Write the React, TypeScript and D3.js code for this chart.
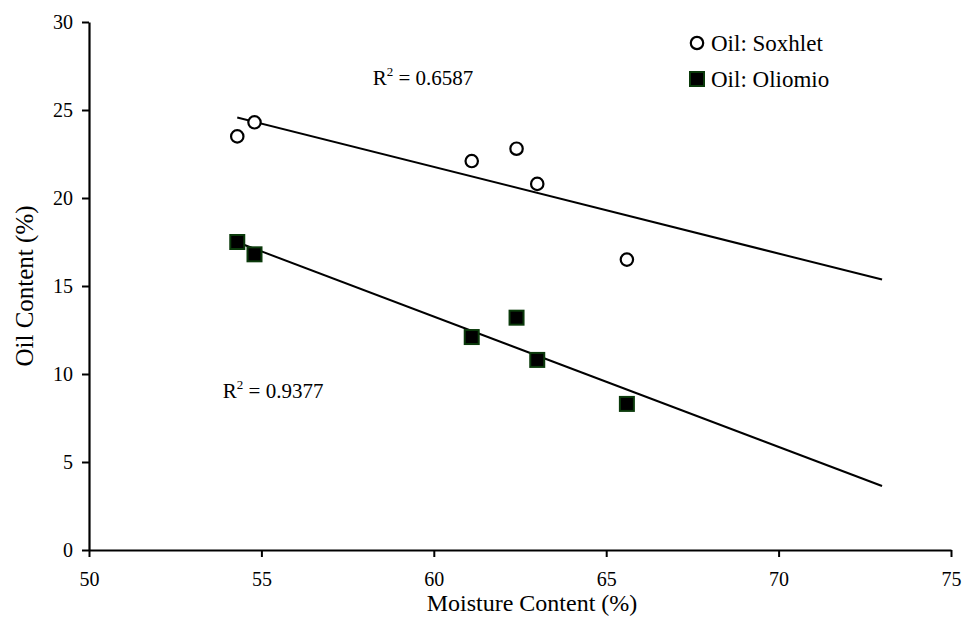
import React, { useEffect, useRef } from 'react';
import * as d3 from 'd3';

// moisture content (%) of each sample
const moisture = [54.3, 54.8, 61.1, 62.4, 63.0, 65.6];
// oil content (%) by extraction method
const soxhlet = [23.5, 24.3, 22.1, 22.8, 20.8, 16.5];
const oliomio = [17.5, 16.8, 12.1, 13.2, 10.8, 8.3];

const xTicks = [50, 55, 60, 65, 70, 75];
const yTicks = [0, 5, 10, 15, 20, 25, 30];
const trendEnd = 73; // trendline forecast end
const r2Text = ['0.6587', '0.9377'];

const FONT = 'Liberation Serif';

const fit = (xs: number[], ys: number[]) => {
  const mx = d3.mean(xs)!;
  const my = d3.mean(ys)!;
  const sxy = d3.sum(xs, (x, i) => (x - mx) * (ys[i] - my));
  const sxx = d3.sum(xs, (x) => (x - mx) ** 2);
  const slope = sxy / sxx;
  return (x: number) => my + slope * (x - mx);
};

const App: React.FC = () => {
  const svgRef = useRef<SVGSVGElement>(null);

  useEffect(() => {
    if (!svgRef.current) return;
    const width = 965;
    const height = 620;
    const left = 89, right = 951, top = 22, bottom = 550;

    const svg = d3.select(svgRef.current);
    svg.selectAll('*').remove();
    svg.attr('width', width).attr('height', height);

    const x = d3.scaleLinear().domain([50, 75]).range([left, right]);
    const y = d3.scaleLinear().domain([0, 30]).range([bottom, top]);

    // axes
    const xAxis = svg.append('g')
      .attr('transform', `translate(0,${bottom})`)
      .call(d3.axisBottom(x).tickValues(xTicks).tickSize(7).tickPadding(15).tickSizeOuter(0));
    const yAxis = svg.append('g')
      .attr('transform', `translate(${left},0)`)
      .call(d3.axisLeft(y).tickValues(yTicks).tickSize(7).tickPadding(9).tickSizeOuter(0));

    [xAxis, yAxis].forEach((g) => {
      g.attr('font-family', null).attr('font-size', null);
      g.select('.domain').attr('stroke', '#000').attr('stroke-width', 2.2);
      g.selectAll('.tick line').attr('stroke', '#000').attr('stroke-width', 2);
      g.selectAll('.tick text')
        .attr('fill', '#000')
        .style('font-family', FONT)
        .style('font-size', '20px');
    });

    // trendlines + R² labels
    const series = [
      { values: soxhlet, r2: r2Text[0], lx: 58.23, ly: 26.42 },
      { values: oliomio, r2: r2Text[1], lx: 53.88, ly: 8.62 },
    ];
    const x0 = d3.min(moisture)!;
    series.forEach((s) => {
      const f = fit(moisture, s.values);
      svg.append('line')
        .attr('x1', x(x0)).attr('y1', y(f(x0)))
        .attr('x2', x(trendEnd)).attr('y2', y(f(trendEnd)))
        .attr('stroke', '#000')
        .attr('stroke-width', 2);

      const t = svg.append('text')
        .attr('x', x(s.lx))
        .attr('y', y(s.ly))
        .style('font-family', FONT)
        .style('font-size', '21px')
        .attr('fill', '#000');
      t.append('tspan').text('R');
      t.append('tspan').attr('dy', -9).style('font-size', '13px').text('2');
      t.append('tspan').attr('dy', 9).text(` = ${s.r2}`);
    });

    // Soxhlet points
    svg.append('g')
      .selectAll('circle')
      .data(moisture)
      .join('circle')
      .attr('cx', (d) => x(d))
      .attr('cy', (_, i) => y(soxhlet[i]))
      .attr('r', 6.2)
      .attr('fill', '#fff')
      .attr('stroke', '#000')
      .attr('stroke-width', 2.2);

    // Oliomio points
    const sq = 14;
    svg.append('g')
      .selectAll('rect')
      .data(moisture)
      .join('rect')
      .attr('x', (d) => x(d) - sq / 2)
      .attr('y', (_, i) => y(oliomio[i]) - sq / 2)
      .attr('width', sq)
      .attr('height', sq)
      .attr('fill', '#000')
      .attr('stroke', '#0b3a0b')
      .attr('stroke-width', 2);

    // legend
    const lg = svg.append('g').attr('transform', 'translate(697,43)');
    lg.append('circle').attr('r', 6.2).attr('fill', '#fff').attr('stroke', '#000').attr('stroke-width', 2.2);
    lg.append('rect').attr('x', -sq / 2).attr('y', 36 - sq / 2).attr('width', sq).attr('height', sq)
      .attr('fill', '#000').attr('stroke', '#0b3a0b').attr('stroke-width', 2);
    ['Oil: Soxhlet', 'Oil: Oliomio'].forEach((label, i) => {
      lg.append('text')
        .attr('x', 14)
        .attr('y', 8 + i * 36)
        .style('font-family', FONT)
        .style('font-size', '23px')
        .attr('fill', '#000')
        .text(label);
    });

    // axis titles
    svg.append('text')
      .attr('x', 532)
      .attr('y', 611)
      .attr('text-anchor', 'middle')
      .style('font-family', FONT)
      .style('font-size', '24px')
      .text('Moisture Content (%)');
    svg.append('text')
      .attr('transform', `translate(33,${(top + bottom) / 2}) rotate(-90)`)
      .attr('text-anchor', 'middle')
      .style('font-family', FONT)
      .style('font-size', '25px')
      .text('Oil Content (%)');
  }, []);

  return (
    <div style={{ position: 'absolute', left: 0, top: 0, background: '#fff' }}>
      <svg ref={svgRef} style={{ display: 'block' }}></svg>
    </div>
  );
};

export default App;
